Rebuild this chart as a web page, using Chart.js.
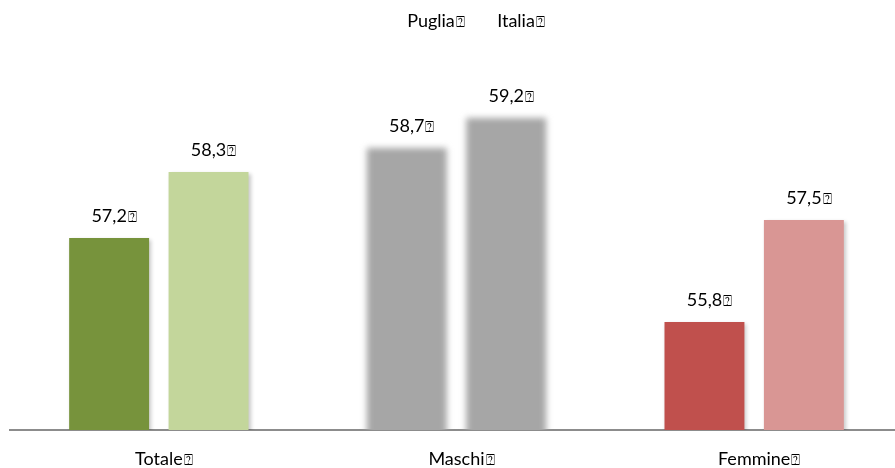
<!DOCTYPE html>
<html>
<head>
<meta charset="utf-8">
<script src="https://cdn.jsdelivr.net/npm/chart.js@4.4.1/dist/chart.umd.min.js"></script>
<style>
  html, body { margin: 0; padding: 0; background: #fff; overflow: hidden; }
  #wrap { position: relative; width: 903px; height: 468px; }
</style>
</head>
<body>
<div id="wrap"><canvas id="c"></canvas></div>
<script>
// Tasso di occupazione: Puglia vs Italia
const categories = ['Totale', 'Maschi', 'Femmine'];
const seriesNames = ['Puglia', 'Italia'];
const puglia = [57.2, 58.7, 55.8];
const italia = [58.3, 59.2, 57.5];
const pugliaColors = ['#77933C', '#A6A6A6', '#C0504D'];
const italiaColors = ['#C3D69B', '#A6A6A6', '#D99694'];
const softCategory = 'Maschi';
const MARK = '\u2370';

const FONT = 'Lato, "Open Sans", sans-serif';
const FONT_SIZE = 18;

function fmt(v) { return v.toFixed(1).replace('.', ','); }

// draws a word centred on x, followed by the trailing marker glyph
function drawTagged(ctx, text, cx, y) {
  ctx.save();
  ctx.font = FONT_SIZE + 'px ' + FONT;
  ctx.fillStyle = '#000';
  ctx.textBaseline = 'alphabetic';
  ctx.textAlign = 'left';
  const w = ctx.measureText(text).width;
  const x0 = cx - w / 2;
  ctx.fillText(text, x0, y);
  ctx.font = (FONT_SIZE - 3) + 'px "DejaVu Sans"';
  ctx.fillText(MARK, x0 + w + 1, y);
  ctx.restore();
}

// blur for the grey pair, light drop shadow for the others
const barEffects = {
  id: 'barEffects',
  beforeDatasetDraw(chart, args) {
    args.meta.data.forEach((el, i) => {
      if (el.__wrapped) return;
      const orig = el.draw.bind(el);
      el.draw = function (ctx) {
        ctx.save();
        if (categories[i] === softCategory) {
          ctx.filter = 'blur(3px)';
        } else {
          ctx.shadowColor = 'rgba(0,0,0,0.22)';
          ctx.shadowBlur = 4;
          ctx.shadowOffsetX = 2;
          ctx.shadowOffsetY = 2;
        }
        orig(ctx);
        ctx.restore();
      };
      el.__wrapped = true;
    });
  }
};

// value labels above the bars, category labels below, legend text on top
const textLayer = {
  id: 'textLayer',
  afterDraw(chart) {
    const ctx = chart.ctx;
    chart.data.datasets.forEach((ds, di) => {
      const meta = chart.getDatasetMeta(di);
      meta.data.forEach((el, i) => {
        drawTagged(ctx, fmt(ds.data[i]), el.x, el.y - 16);
      });
    });
    const xs = chart.scales.x;
    categories.forEach((c, i) => {
      drawTagged(ctx, c, xs.getPixelForTick(i), 465);
    });
    drawTagged(ctx, seriesNames[0], 431, 27);
    drawTagged(ctx, seriesNames[1], 516, 27);
  }
};

new Chart(document.getElementById('c'), {
  type: 'bar',
  data: {
    labels: categories,
    datasets: [
      { label: seriesNames[0], data: puglia, backgroundColor: pugliaColors },
      { label: seriesNames[1], data: italia, backgroundColor: italiaColors }
    ]
  },
  options: {
    responsive: true,
    maintainAspectRatio: false,
    animation: false,
    categoryPercentage: 0.668,
    barPercentage: 0.804,
    layout: { padding: { left: 10, right: 0, top: 10, bottom: 30 } },
    plugins: { legend: { display: false }, tooltip: { enabled: false } },
    scales: {
      x: {
        grid: { display: false },
        border: { color: '#8c8c8c', width: 2 },
        ticks: { display: false }
      },
      y: {
        display: false,
        min: 54,
        max: 61
      }
    }
  },
  plugins: [barEffects, textLayer]
});
</script>
</body>
</html>
